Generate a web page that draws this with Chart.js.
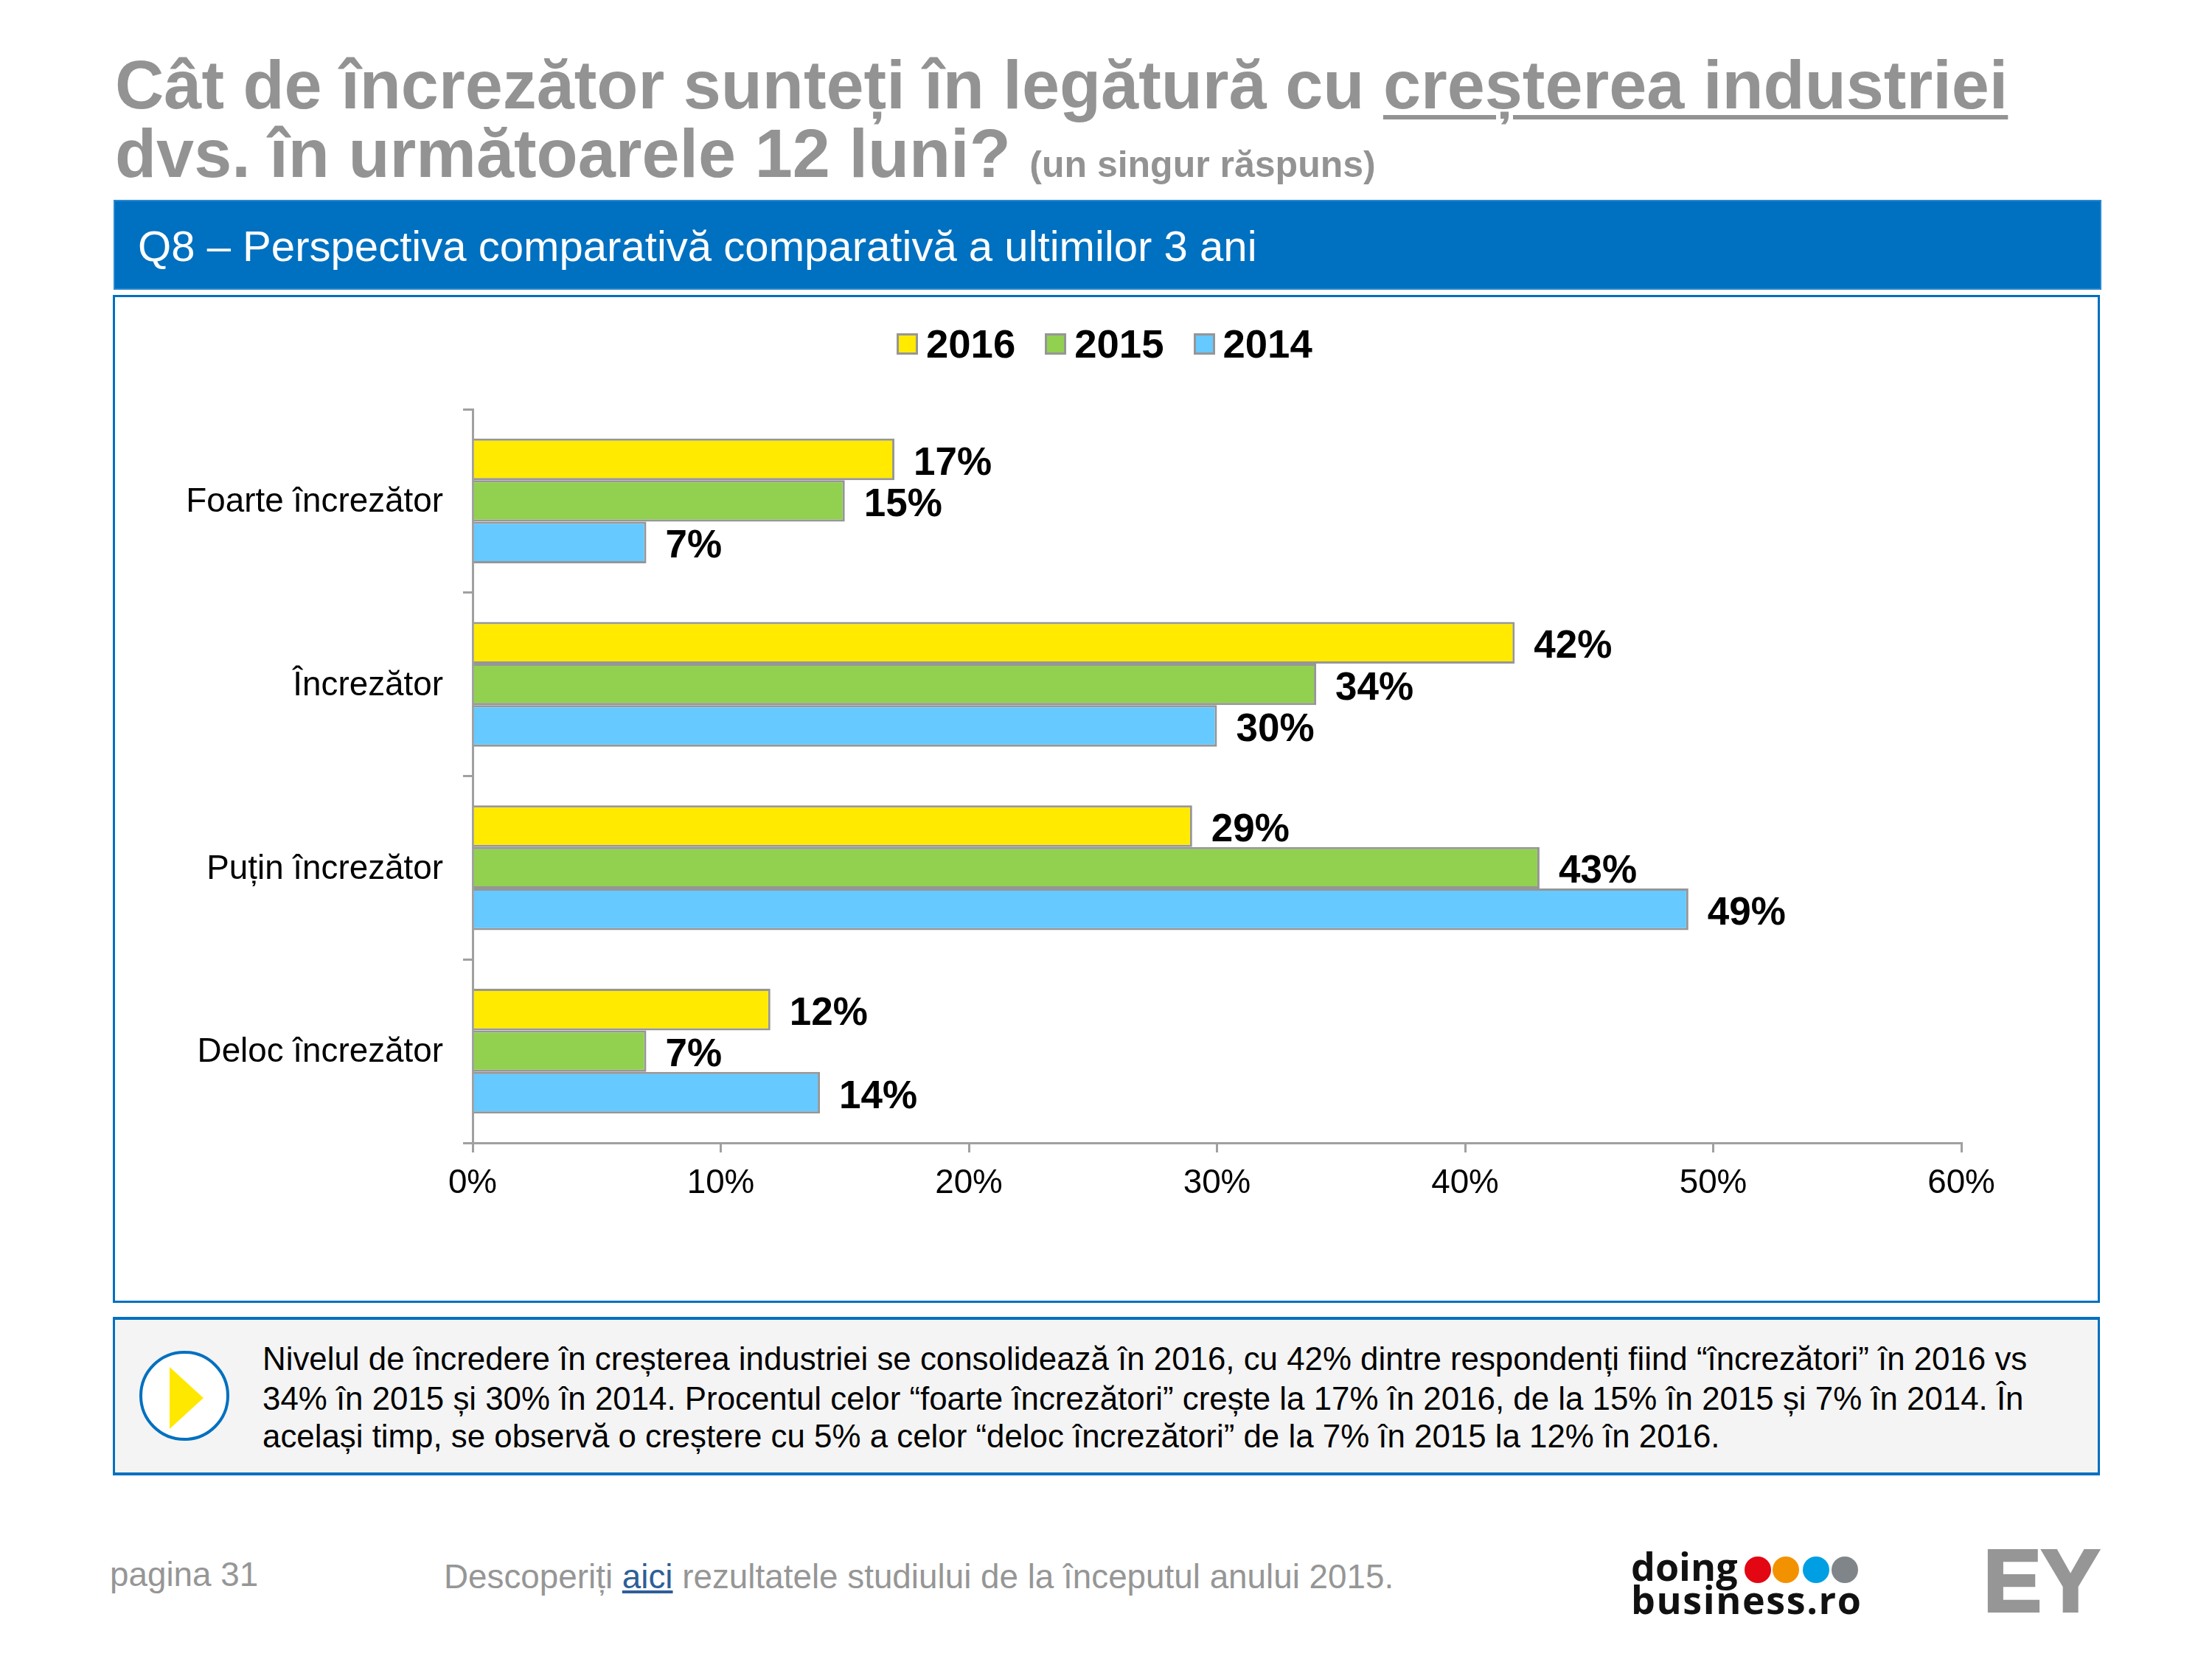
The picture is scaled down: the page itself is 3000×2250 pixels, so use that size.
<!DOCTYPE html>
<html lang="ro">
<head>
<meta charset="utf-8">
<title>Q8</title>
<script src="https://cdn.jsdelivr.net/npm/chart.js@4/dist/chart.umd.js"></script>
<style>
    html, body { margin: 0; padding: 0; background: #fff; }
    body { position: relative; width: 3000px; height: 2250px; overflow: hidden; font-family: "Liberation Sans", Arial, sans-serif; }
    .t { position: absolute; white-space: nowrap; line-height: normal; }
    .titlu { left: 156px; font-size: 91.85px; font-weight: bold; color: #939393; }
    .titlu u { text-decoration-thickness: 6px; text-underline-offset: 9px; }
    .titlu small { font-size: 50px; }
    #banda { position: absolute; left: 154px; top: 271px; width: 2696px; height: 122px; background: #0070c0; box-sizing: border-box; border: 2px solid #2a88d0; }
    #cadru { position: absolute; left: 153px; top: 400px; width: 2695px; height: 1367px; box-sizing: border-box; border: 3px solid #0070c0; }
    #myChart { position: absolute; left: 156px; top: 403px; }
    #legenda { position: absolute; left: 1216px; top: 435px; display: flex; font-size: 54.5px; font-weight: bold; color: #000; }
    #legenda div { display: flex; align-items: center; margin-right: 40px; }
    #legenda i { display: block; width: 29px; height: 29px; box-sizing: border-box; border: 3px solid #969696; margin-right: 11px; }
    #concluzie { position: absolute; left: 153px; top: 1786px; width: 2695px; height: 215px; box-sizing: border-box; background: #f4f4f4; border: 3px solid #0070c0; border-top-width: 4px; border-bottom-width: 4px; }
    .rand { left: 356px; font-size: 43.85px; color: #000; }
    .gri { font-size: 45.8px; color: #969696; }
    .gri a { color: #2e5e97; text-decoration: underline; }
    .logo { font-family: "Open Sans", sans-serif; font-weight: 700; font-size: 52px; color: #111; left: 2212px; }
</style>
</head>
<body>
<div class="t titlu" style="top:63px">Cât de încrezător sunteți în legătură cu <u>creșterea industriei</u></div>
<div class="t titlu" style="top:156px">dvs. în următoarele 12 luni? <small>(un singur răspuns)</small></div>
<div id="banda"></div>
<div class="t" style="left:187px;top:300px;font-size:58.1px;color:#fff">Q8 – Perspectiva comparativă comparativă a ultimilor 3 ani</div>
<div id="cadru"></div>
<canvas id="myChart" width="2688" height="1361"></canvas>
<div id="legenda"></div>
<div id="concluzie"></div>
<svg style="position:absolute;left:180px;top:1823px" width="140" height="140">
    <circle cx="70" cy="70" r="59" fill="#fff" stroke="#0070c0" stroke-width="4"/>
    <polygon points="50,31 96,73 50,115" fill="#ffe800"/>
</svg>
<div class="t rand" style="top:1818px">Nivelul de încredere în creșterea industriei se consolidează în 2016, cu 42% dintre respondenți fiind “încrezători” în 2016 vs</div>
<div class="t rand" style="top:1872px">34% în 2015 și 30% în 2014. Procentul celor “foarte încrezători” crește la 17% în 2016, de la 15% în 2015 și 7% în 2014. În</div>
<div class="t rand" style="top:1923px">același timp, se observă o creștere cu 5% a celor “deloc încrezători” de la 7% în 2015 la 12% în 2016.</div>
<div class="t gri" style="left:149px;top:2110px">pagina 31</div>
<div class="t gri" style="left:602px;top:2113px">Descoperiți <a>aici</a> rezultatele studiului de la începutul anului 2015.</div>
<div class="t logo" style="top:2088px">doing</div>
<div class="t logo" style="top:2133px;letter-spacing:1.6px">business.ro</div>
<svg style="position:absolute;left:2360px;top:2105px" width="170" height="50">
    <circle cx="24" cy="24" r="18" fill="#e30613"/>
    <circle cx="62" cy="24" r="18" fill="#f39200"/>
    <circle cx="103" cy="24" r="18" fill="#009fe3"/>
    <circle cx="142" cy="24" r="18" fill="#808589"/>
</svg>
<div class="t" style="left:2690px;top:2076px;font-size:118px;font-weight:bold;color:#969696;-webkit-text-stroke:4px #969696">EY</div>

<script>
// date grafic
var categorii = ["Foarte încrezător", "Încrezător", "Puțin încrezător", "Deloc încrezător"];
var serii = ["2016", "2015", "2014"];
var valori2016 = [17, 42, 29, 12];
var valori2015 = [15, 34, 43, 7];
var valori2014 = [7, 30, 49, 14];
var culori = ["#ffea00", "#92d050", "#66c9ff"];
var axisMax = 60;
var axisStep = 10;

// etichete la capatul barelor
var etichete = {
    id: "etichete",
    afterDatasetsDraw: function (chart) {
        var ctx = chart.ctx;
        ctx.save();
        ctx.font = "bold 53px 'Liberation Sans'";
        ctx.fillStyle = "#000";
        ctx.textBaseline = "middle";
        ctx.textAlign = "left";
        chart.data.datasets.forEach(function (ds, i) {
            chart.getDatasetMeta(i).data.forEach(function (bar, j) {
                ctx.fillText(ds.data[j] + "%", bar.x + 26, bar.y + 6);
            });
        });
        ctx.restore();
    }
};

function VeLegenda() {
    var str = "";
    serii.forEach(function (s, i) {
        str += '<div><i style="background:' + culori[i] + '"></i>' + s + "</div>";
    });
    document.getElementById("legenda").innerHTML = str;
}

function VeDoThi() {
    var valori = [valori2016, valori2015, valori2014];
    var axa = "#a0a0a0";
    new Chart("myChart", {
        type: "bar",
        plugins: [etichete],
        data: {
            labels: categorii,
            datasets: serii.map(function (s, i) {
                return {
                    label: s,
                    data: valori[i],
                    backgroundColor: culori[i],
                    borderColor: "#969696",
                    borderWidth: 3,
                    categoryPercentage: 0.68,
                    barPercentage: 1
                };
            })
        },
        options: {
            indexAxis: "y",
            responsive: false,
            animation: false,
            devicePixelRatio: 1,
            layout: { padding: { top: 152, right: 184, bottom: 114, left: 0 } },
            plugins: { legend: { display: false }, title: { display: false }, tooltip: { enabled: false } },
            scales: {
                x: {
                    min: 0,
                    max: axisMax,
                    afterFit: function (scale) { scale.height = 100; },
                    border: { color: axa, width: 3 },
                    grid: { drawOnChartArea: false, color: axa, lineWidth: 3, tickLength: 13 },
                    ticks: {
                        stepSize: axisStep,
                        maxRotation: 0,
                        padding: 15,
                        color: "#000",
                        font: { family: "Liberation Sans", size: 45.8 },
                        callback: function (v) { return v + "%"; }
                    }
                },
                y: {
                    afterFit: function (scale) { scale.width = 485; },
                    border: { color: axa, width: 3 },
                    grid: { drawOnChartArea: false, color: axa, lineWidth: 3, tickLength: 13 },
                    ticks: {
                        padding: 27,
                        color: "#000",
                        font: { family: "Liberation Sans", size: 45.8, lineHeight: "4px" },
                        // rand gol ca sa coboare putin textul
                        callback: function (v) { return ["", this.getLabelForValue(v)]; }
                    }
                }
            }
        }
    });
}

VeLegenda();
VeDoThi();
</script>
</body>
</html>
